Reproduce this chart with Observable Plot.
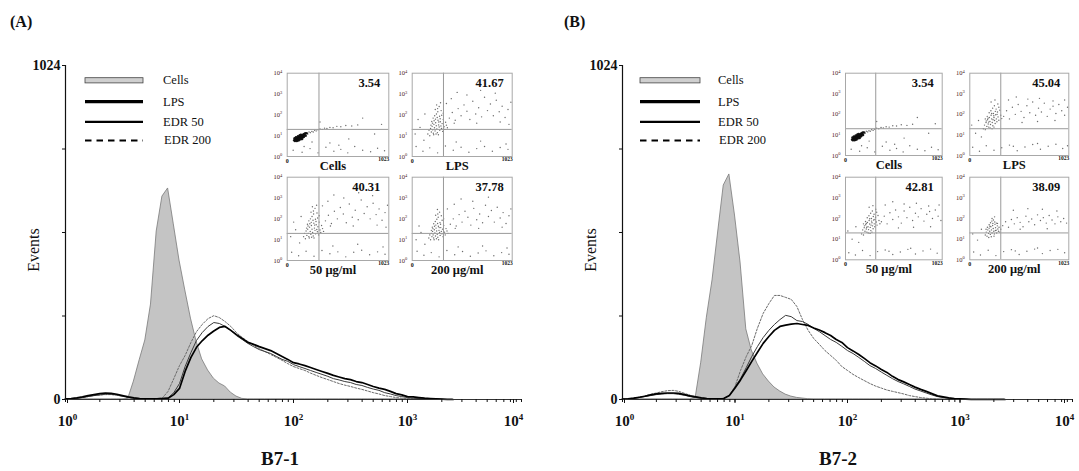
<!DOCTYPE html>
<html><head><meta charset="utf-8">
<script src="https://cdn.jsdelivr.net/npm/d3@7"></script>
<script src="https://cdn.jsdelivr.net/npm/@observablehq/plot@0.6"></script>
<style>
body{margin:0;background:#fff}
#root{position:relative;width:1079px;height:471px;overflow:hidden;background:#fff}
#root svg{position:absolute;left:0;top:0}
</style></head>
<body><div id="root"></div>
<script>
// ---------- DATA ----------
// fluorescence channel (log grid) shared by every histogram
const fl = [1,1.12,1.26,1.41,1.58,1.78,2,2.24,2.51,2.82,3.16,3.55,3.98,4.47,5.01,5.62,6.31,7.08,7.94,8.91,
  10,11.2,12.6,14.1,15.8,17.8,20,22.4,25.1,28.2,31.6,35.5,39.8,44.7,50.1,56.2,63.1,70.8,79.4,89.1,
  100,112,126,141,158,178,200,224,251,282,316,355,398,447,501,562,631,708,794,891,
  1000,1122,1259,1413,1585,1778,1995,2239,2512];

const seriesNames = ["Cells", "LPS", "EDR 50", "EDR 200"];

// Panel A (B7-1) event counts
const cellsA = [0,0,0,0,0,0,0,0,0,0, 0,2,55,120,181,291,515,622,647,537,
  426,337,248,178,123,89,64,49,40,21, 9,2,0,0,0,0,0,0,0,0,
  0,0,0,0,0,0,0,0,0,0, 0,0,0,0,0,0,0,0,0,0, 0,0,0,0,0,0,0,0,0];
const lpsA = [2,3,5,8,12,15,18,20,19,16, 12,8,5,3,2,2,2,3,4,15,
  34,86,129,160,180,197,210,221,224,212, 199,187,175,169,162,156,150,141,132,123,
  113,109,104,98,92,86,80,74,69,64, 61,55,52,46,40,35,31,25,18,14, 9,8,6,4,3,2,1,0,0];
const edr50A = [2,3,4,6,9,12,14,16,16,14, 10,7,4,3,2,2,2,3,5,21,
  49,101,144,181,205,224,236,233,224,212, 196,184,172,162,153,147,141,132,123,117,
  107,101,95,89,83,77,71,64,60,55, 52,46,43,37,32,28,21,17,12,9, 6,4,3,2,1,1,0,0,0];
const edr200A = [2,3,4,6,9,12,14,15,15,13, 10,6,4,3,2,2,3,5,25,64,
  104,135,175,208,230,248,257,251,239,224, 205,190,178,166,156,147,138,129,120,110,
  101,95,89,81,74,67,61,55,49,44, 40,35,31,26,21,17,12,9,6,4, 3,2,1,0,0,0,0,0,0];

// Panel B (B7-2) event counts
const cellsB = [0,0,0,0,0,0,0,0,0,0, 0,0,0,5,113,251,365,512,656,690,
  564,420,215,150,110,77,55,37,25,15, 9,5,3,1,0,0,0,0,0,0,
  0,0,0,0,0,0,0,0,0,0, 0,0,0,0,0,0,0,0,0,0, 0,0,0,0,0,0,0,0,0];
const lpsB = [1,2,4,7,10,14,17,19,20,20, 19,15,11,8,5,3,2,2,3,12,
  35,60,89,117,144,172,193,212,224,228, 231,233,230,227,219,213,205,196,184,175,
  159,149,138,126,113,103,92,83,71,61, 54,46,38,31,25,18,11,8,5,3, 2,1,0,0,0,0,0,0,0];
const edr50B = [1,2,3,6,9,12,15,17,18,18, 16,13,9,6,4,3,2,2,3,12,
  38,64,98,132,162,190,212,230,245,258, 254,242,239,230,218,208,196,184,175,163,
  150,141,129,117,104,95,84,74,64,55, 48,40,32,26,20,14,9,6,4,2, 1,0,0,0,0,0,0,0,0];
const edr200B = [1,2,4,7,11,16,20,24,27,28, 25,19,13,8,5,3,2,2,4,12,
  40,89,132,166,218,264,294,319,319,313, 307,285,245,212,187,169,150,135,120,101,
  89,77,67,58,49,41,35,29,25,21, 17,12,9,6,4,2,1,0,0,0, 0,0,0,0,0,0,0,0,0];

// axes
const yTicks = [0, 256, 512, 768, 1024];
const yTickLabels = ["0", "", "", "", "1024"];
const xTicks = [1, 10, 100, 1000, 10000];
const decadeLabels = ["10⁰", "10¹", "10²", "10³", "10⁴"];
const panelLetters = ["(A)", "(B)"];
const panelTitles = ["B7-1", "B7-2"];
const yAxisTitle = "Events";

// insets (dot plots)
const insetCaptions = ["Cells", "LPS", "50 μg/ml", "200 μg/ml"];
const pctA = [3.54, 41.67, 40.31, 37.78];
const pctB = [3.54, 45.04, 42.81, 38.09];
const insetXTicks = [0, 1023];
const gateX = 320;
const gateY = 20;

const dotsCells = [[70,6],[78,5.5],[85,7],[92,6],[98,8],[104,7],[110,6.5],[116,8],[122,9],[128,7.5],[134,9],[140,8],[146,10],[152,9],[158,11],[164,10],[170,12],[88,8.5],[96,5.5],[108,9.5],[118,6],[126,10.5],[138,11],[150,7],[160,8.5],[176,11],[182,13],[100,6.8],[112,7.8],[130,8.4],[144,9.2],[82,6.4],[94,7.2],[120,7],[136,6.8],[156,9.8],[168,8.8],[186,10],[74,7.5],[106,5.8],
 [196,13],[208,12],[220,15],[234,14],[248,16],[262,15],[276,18],[292,17],[310,19],[330,21],[352,20],[376,23],[400,22],[430,25],[462,24],[500,28],[540,27],[590,31],[650,29],[710,33],
 [60,2],[150,1.6],[230,2.4],[310,1.5],[390,2.8],[470,1.8],[540,2.2],[610,1.5],[680,3],[760,2],[840,1.7],[910,2.5],[980,1.9],[250,5],[430,4.5],[620,7],[880,12],[950,35],[760,70],[330,45],[520,3.5],[170,3]];

const dotsLpsA = [[160,12],[172,18],[180,10],[188,22],[196,15],[204,28],[210,19],[216,13],[222,35],[228,24],[234,17],[240,42],[246,30],[252,21],[258,14],[264,55],[270,33],[276,26],[282,18],[288,47],[294,29],[300,22],[306,38],[312,16],[318,60],[326,27],[334,20],[342,44],[350,32],[360,24],[200,48],[214,70],[230,90],[248,110],[262,140],[280,85],[296,160],[238,62],[256,75],[272,45],[220,11],[244,12],[268,11],[192,32],[208,40],[224,52],[286,65],[302,95],[318,120],[260,200],[236,180],[276,250],[290,380],[250,300],
 [380,70],[410,130],[440,55],[470,200],[500,90],[530,300],[560,150],[590,60],[620,450],[650,110],[680,220],[710,80],[740,700],[770,160],[800,330],[830,90],[860,500],[890,140],[920,260],[950,75],[980,180],[1010,400],[400,600],[460,1200],[560,900],[700,1500],[850,1100],[350,350],[430,40],[660,40],[900,45],[990,35],
 [40,3],[110,1.8],[180,2.6],[260,1.5],[340,3.2],[420,2],[500,2.8],[580,1.6],[660,2.4],[740,3],[820,1.8],[900,2.7],[980,2.2],[30,12],[80,25],[120,6],[60,60],[130,110],[450,5],[700,5.5],[960,4]];

const dots50A = [[165,14],[175,20],[183,11],[190,26],[198,16],[206,32],[212,20],[218,14],[225,40],[232,25],[238,18],[244,48],[250,32],[256,22],[262,15],[268,62],[274,36],[280,28],[286,19],[292,52],[298,31],[304,24],[310,42],[316,17],[322,70],[330,29],[338,22],[346,48],[356,34],[366,25],[204,55],[218,80],[234,100],[250,130],[266,170],[284,95],[300,190],[242,68],[260,85],[276,50],[222,12],[246,13],[270,12],[195,36],[210,45],[228,58],[290,75],[306,110],[322,140],[264,240],[240,210],[280,320],[296,450],[254,380],
 [385,80],[415,150],[445,60],[475,230],[505,100],[535,350],[565,170],[595,65],[625,520],[655,120],[685,260],[715,90],[745,800],[775,180],[805,380],[835,100],[865,560],[895,160],[925,300],[955,85],[985,200],[1010,450],[410,700],[470,1400],[570,1000],[720,1800],[860,1300],[355,420],[435,45],[665,45],[905,50],[995,40],
 [45,2.5],[115,1.7],[190,2.8],[270,1.6],[350,3],[430,2.1],[510,2.6],[590,1.5],[670,2.5],[750,3.1],[830,1.9],[910,2.6],[985,2],[35,14],[85,30],[125,7],[65,70],[140,130],[460,5],[710,6],[965,4.5]];

const dots200A = [[170,12],[180,17],[188,10],[195,20],[202,14],[208,25],[214,17],[220,12],[226,30],[232,21],[238,15],[244,36],[250,26],[256,18],[262,13],[268,44],[274,28],[280,22],[286,16],[292,38],[298,25],[304,19],[310,32],[316,14],[322,48],[330,23],[338,17],[346,34],[356,26],[366,20],[206,40],[220,58],[236,75],[252,95],[266,120],[284,66],[298,140],[242,50],[260,60],[276,38],[224,10],[248,11],[270,10],[196,28],[212,34],[228,44],[290,55],[306,85],[322,100],[262,170],[240,150],[280,210],[258,280],
 [390,55],[420,100],[450,45],[480,160],[510,70],[540,230],[570,120],[600,50],[630,320],[660,90],[690,170],[720,65],[750,450],[780,130],[810,250],[840,70],[870,360],[900,110],[930,200],[960,60],[990,140],[1010,300],[430,500],[500,900],[620,700],[780,1100],[360,300],[440,35],[680,35],[920,40],
 [50,2.8],[120,1.8],[195,2.4],[275,1.5],[355,3],[435,1.9],[515,2.7],[595,1.6],[675,2.3],[755,2.9],[835,1.7],[915,2.4],[990,2],[40,10],[90,22],[130,6],[70,45],[470,4.5],[720,5],[970,4]];

const dotsLpsB = [[140,20],[152,30],[160,18],[168,40],[176,26],[184,55],[190,34],[196,24],[202,70],[208,45],[214,32],[220,90],[226,60],[232,40],[238,28],[244,110],[250,70],[256,50],[262,36],[268,95],[274,60],[280,44],[286,130],[292,75],[300,52],[310,160],[320,90],[330,62],[180,80],[200,120],[218,150],[236,200],[254,260],[272,180],[290,320],[210,22],[230,20],[250,24],[188,65],[226,110],[248,85],[264,140],[170,48],[194,42],[240,55],[282,100],[160,60],[300,220],[220,400],[260,500],
 [350,80],[380,150],[410,60],[440,220],[470,100],[500,300],[530,140],[560,70],[590,260],[620,120],[650,400],[680,90],[710,200],[740,130],[770,350],[800,80],[830,180],[860,250],[890,110],[920,300],[950,150],[980,90],[1010,220],[400,500],[480,700],[600,550],[720,600],[860,450],[980,500],[540,40],[700,45],[880,50],
 [30,2.5],[100,1.6],[170,3],[250,1.8],[330,2.4],[410,3.2],[490,1.7],[570,2.6],[650,3.4],[730,2],[810,2.8],[890,3.5],[960,2.2],[1010,3],[20,30],[60,12],[90,50],[120,8],[700,3.8],[450,2.8]];

const dots50B = [[170,18],[182,28],[190,16],[198,36],[206,24],[214,50],[220,31],[226,22],[232,64],[238,40],[244,29],[250,80],[256,54],[262,37],[268,26],[274,100],[280,62],[286,44],[292,32],[298,85],[304,55],[310,40],[318,115],[326,68],[334,48],[344,140],[354,80],[364,56],[212,72],[230,108],[248,135],[266,180],[284,230],[302,160],[320,280],[240,20],[260,19],[280,22],[220,58],[256,98],[276,75],[294,125],[200,44],[224,38],[270,48],[312,90],[190,55],[330,200],[250,350],[290,420],
 [380,70],[410,130],[440,55],[470,190],[500,90],[530,260],[560,120],[590,60],[620,230],[650,110],[680,350],[710,80],[740,180],[770,120],[800,300],[830,75],[860,160],[890,220],[920,100],[950,260],[980,130],[1010,80],[420,450],[500,650],[620,500],[750,550],[880,400],[990,450],[560,35],[720,38],[900,40],
 [35,2.2],[105,1.7],[180,2.8],[260,1.6],[340,2.5],[420,3],[500,1.8],[580,2.4],[660,3.2],[740,1.9],[820,2.7],[900,3.3],[970,2.1],[25,25],[70,10],[110,40],[140,7],[690,3.6],[460,2.6]];

const dots200B = [[160,16],[170,22],[178,14],[186,28],[194,19],[200,34],[206,24],[212,17],[218,40],[224,28],[230,20],[236,46],[242,33],[248,24],[254,18],[260,52],[266,36],[272,27],[278,20],[284,44],[290,31],[296,24],[302,38],[310,22],[200,50],[214,62],[228,75],[244,85],[258,68],[274,60],[196,12],[222,13],[250,14],[182,38],[208,42],[238,58],[264,26],[286,58],[168,30],[320,30],[230,100],[256,120],
 [340,45],[370,70],[400,38],[430,90],[460,55],[490,110],[520,65],[550,40],[580,130],[610,70],[640,95],[670,50],[700,150],[730,80],[760,110],[790,60],[820,140],[850,85],[880,55],[910,120],[940,70],[970,100],[1000,60],[450,250],[600,300],[750,280],[900,230],[520,30],[800,32],
 [40,2.4],[110,1.7],[190,2.9],[270,1.6],[350,2.5],[430,3.1],[510,1.8],[590,2.6],[670,3.3],[750,2],[830,2.8],[910,3.2],[980,2.2],[30,18],[80,9],[120,30],[700,3.7],[470,2.7]];

// ---------- LAYOUT / STYLE ----------
const W = 1079, H = 471;
const FONT = "'Liberation Serif','Times New Roman',serif";
const root = document.getElementById("root");

const panels = [
  {frame:{x0:65, x1:521, y0:65, y1:399}, series:[cellsA, lpsA, edr50A, edr200A],
   letterX:10, eventsX:39, titleX:280, legSX:85, legSW:58, legTX:163,
   insets:[[286.7,72.7,101.6,83.3],[411.7,72.7,100,83.3],[286.7,176.7,101.6,83.3],[411.7,176.7,100,83.3]],
   dots:[dotsCells, dotsLpsA, dots50A, dots200A], pct:pctA},
  {frame:{x0:622, x1:1072, y0:65, y1:399}, series:[cellsB, lpsB, edr50B, edr200B],
   letterX:564, eventsX:596, titleX:838, legSX:640, legSW:60, legTX:718,
   insets:[[845,72.7,96.7,82.3],[969.3,72.7,99,82.3],[845,176.7,96.7,82.6],[969.3,176.7,99,82.6]],
   dots:[dotsCells, dotsLpsB, dots50B, dots200B], pct:pctB}
];

const SUP = {"⁰":"0","¹":"1","²":"2","³":"3","⁴":"4"};
function supify(svg, supSize, rise) {
  d3.select(svg).selectAll("text").each(function() {
    const t = this.textContent;
    const m = /^10([⁰¹²³⁴])$/.exec(t);
    if (!m) return;
    const sel = d3.select(this);
    sel.text(null);
    sel.append("tspan").text("10");
    sel.append("tspan").attr("font-size", supSize).attr("dy", -rise).text(SUP[m[1]]);
  });
}
function add(svg) { root.appendChild(svg); }

const minorTicks = d3.scaleLog().domain([1, 10000]).ticks();

function histogram(p) {
  const f = p.frame;
  const rows = arr => arr.map((c, i) => ({fl: fl[i], count: c}));
  const [cells, lps, e50, e200] = p.series;
  const labelOpts = {anchor: "bottom", tickSize: 4, tickPadding: 12, label: null,
    tickFormat: d => decadeLabels[xTicks.indexOf(d)], fontSize: 15, fontWeight: "bold"};
  const svg = Plot.plot({
    width: W, height: H,
    marginLeft: f.x0, marginRight: W - f.x1, marginTop: f.y0, marginBottom: H - f.y1,
    x: {type: "log", domain: [1, 10000], label: null},
    y: {domain: [0, 1024], label: null},
    style: {fontFamily: FONT, color: "#111", background: "transparent", overflow: "visible"},
    marks: [
      Plot.areaY(rows(cells), {x: "fl", y: "count", fill: "#c4c4c4", stroke: "#7a7a7a", strokeWidth: 0.8}),
      Plot.lineY(rows(e200), {x: "fl", y: "count", stroke: "#6a6a6a", strokeWidth: 1, strokeDasharray: "2,1.6"}),
      Plot.lineY(rows(e50), {x: "fl", y: "count", stroke: "#3a3a3a", strokeWidth: 1}),
      Plot.lineY(rows(lps), {x: "fl", y: "count", stroke: "#000", strokeWidth: 1.7}),
      Plot.ruleX([1], {stroke: "#111", strokeWidth: 1.2}),
      Plot.ruleY([0], {stroke: "#333", strokeWidth: 1.2}),
      Plot.axisY(yTicks, {anchor: "left", tickSize: 3, tickPadding: 2, label: null,
        tickFormat: d => yTickLabels[yTicks.indexOf(d)], fontSize: 14, fontWeight: "bold"}),
      Plot.axisX(minorTicks, {anchor: "bottom", tickSize: 3, label: null, tickFormat: () => ""}),
      Plot.axisX(xTicks.slice(0, 1), {...labelOpts, dx: 2}),
      Plot.axisX(xTicks.slice(1, 4), labelOpts),
      Plot.axisX(xTicks.slice(4), {...labelOpts, dx: -8})
    ]
  });
  supify(svg, 9, 6);
  add(svg);
}

// dots in the dense core of the unstained control are drawn heavier
const isCore = d => d[0] < 200 && d[1] > 4.5 && d[1] < 16;

function inset(fr, dots, pct, caption, isCells) {
  const [x, y, w, h] = fr;
  const heavy = d => isCells && isCore(d);
  const svg = Plot.plot({
    width: W, height: H,
    marginLeft: x, marginRight: W - x - w, marginTop: y, marginBottom: H - y - h,
    x: {domain: [0, 1023], label: null},
    y: {type: "log", domain: [1, 10000], label: null},
    style: {fontFamily: FONT, color: "#111", background: "transparent", overflow: "visible"},
    marks: [
      Plot.dot(dots, {filter: d => !heavy(d), x: d => d[0], y: d => d[1], r: 0.7, fill: "#3a3a3a", fillOpacity: 0.75}),
      Plot.dot(dots, {filter: heavy, x: d => d[0], y: d => d[1], r: 1.25, fill: "#0d0d0d", fillOpacity: 0.95}),
      Plot.ruleX([gateX], {stroke: "#9a9a9a", strokeWidth: 1}),
      Plot.ruleY([gateY], {stroke: "#9a9a9a", strokeWidth: 1}),
      Plot.frame({stroke: "#a8a8a8"}),
      Plot.axisY(xTicks, {anchor: "left", tickSize: 0, tickPadding: 5, label: null,
        tickFormat: d => decadeLabels[xTicks.indexOf(d)], fontSize: 6.5, fill: "#4a2222"}),
      Plot.axisX([insetXTicks[0]], {anchor: "bottom", tickSize: 0, tickPadding: 2, label: null,
        tickFormat: d => String(d), fontSize: 6, fontWeight: "bold"}),
      Plot.axisX([insetXTicks[1]], {anchor: "bottom", tickSize: 0, tickPadding: 1, dx: -5, label: null,
        tickFormat: d => String(d), fontSize: 5.5, fontWeight: "bold"}),
      Plot.text([pct], {frameAnchor: "top-right", dx: -8.5, dy: 5, lineAnchor: "top",
        text: d => d.toFixed(2), fontSize: 12.5, fontWeight: "bold", fill: "#111"}),
      Plot.text([caption], {frameAnchor: "bottom", dx: -5, dy: 9, lineAnchor: "middle",
        text: d => d, fontSize: 12.5, fontWeight: "bold", fill: "#111"})
    ]
  });
  supify(svg, 4.5, 2.5);
  add(svg);
}

panels.forEach(p => {
  histogram(p);
  p.insets.forEach((fr, i) => inset(fr, p.dots[i], p.pct[i], insetCaptions[i], i === 0));
});

// overlay: panel letters, axis titles, legends
const ov = d3.create("svg").attr("width", W).attr("height", H)
  .style("font-family", FONT).attr("fill", "#111");
const legRows = [80.3, 101.7, 121.9, 140.5];
panels.forEach((p, k) => {
  ov.append("text").attr("x", p.letterX).attr("y", 27).attr("font-size", 16).attr("font-weight", "bold").text(panelLetters[k]);
  ov.append("text").attr("transform", `translate(${p.eventsX},250) rotate(-90)`)
    .attr("text-anchor", "middle").attr("font-size", 16).text(yAxisTitle);
  ov.append("text").attr("x", p.titleX).attr("y", 465).attr("text-anchor", "middle")
    .attr("font-size", 19).attr("font-weight", "bold").text(panelTitles[k]);
  const g = ov.append("g");
  seriesNames.forEach((name, i) => {
    const yy = legRows[i];
    if (i === 0) {
      g.append("rect").attr("x", p.legSX).attr("y", yy - 2.6).attr("width", p.legSW).attr("height", 5.2)
        .attr("fill", "#cfcfcf").attr("stroke", "#444").attr("stroke-width", 0.8);
    } else {
      g.append("line").attr("x1", p.legSX).attr("x2", p.legSX + p.legSW).attr("y1", yy).attr("y2", yy)
        .attr("stroke", "#000").attr("stroke-width", i === 1 ? 3.2 : 2.2)
        .attr("stroke-dasharray", i === 3 ? "6.5,5" : null);
    }
    g.append("text").attr("x", p.legTX + (i === 3 ? 1 : 0)).attr("y", yy + 1)
      .attr("dominant-baseline", "middle").attr("font-size", 12.5).text(name);
  });
});
add(ov.node());
</script>
</body></html>
